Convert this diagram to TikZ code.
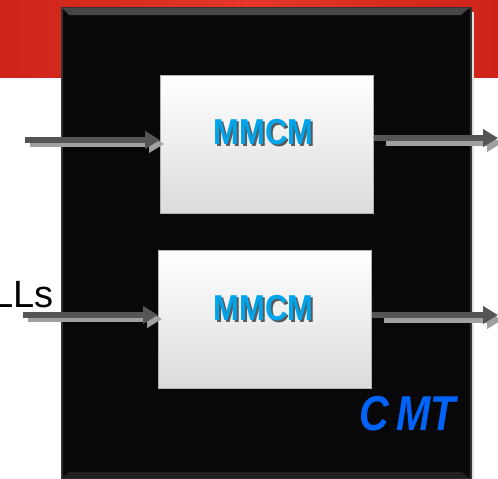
\documentclass[tikz,border=0pt]{standalone}
\usepackage{fontspec}
\setmainfont{Liberation Sans}
\usetikzlibrary{arrows.meta}
\definecolor{redband}{RGB}{205,35,25}
\definecolor{redbandlight}{RGB}{230,55,40}
\definecolor{arrowgray}{RGB}{85,85,85}
\definecolor{shadowgray}{RGB}{160,160,160}
\definecolor{mmcmblue}{RGB}{0,165,235}
\definecolor{cmtblue}{RGB}{0,100,250}
\tikzset{
  x=1pt, y=-1pt,
  mmcmbox/.style={draw=gray!60, line width=1pt, top color=white, bottom color=gray!28, minimum width=213pt, minimum height=138pt, inner sep=0pt},
  mmcmtext/.style={font=\bfseries\fontsize{36}{36}\selectfont, text=mmcmblue, xscale=0.86, inner sep=0pt},
  mmcmshadow/.style={font=\bfseries\fontsize{36}{36}\selectfont, text=gray!70!black, xscale=0.86, inner sep=0pt},
  sig/.style={draw=arrowgray, line width=6pt, -{Triangle[length=15pt,width=17pt]}},
  sigshadow/.style={draw=shadowgray, line width=6pt, -{Triangle[length=15pt,width=17pt]}},
}
\begin{document}
\begin{tikzpicture}
\useasboundingbox (0,0) rectangle (498,479);
% red band
\shade[left color=redband, right color=redband, middle color=redbandlight] (0,0) rectangle (498,77);
% CMT box with faint right shadow
\fill[gray!25] (470,12) rectangle (474,479);
\node[fill=black!97, draw=gray!40!black, line width=1.5pt, minimum width=409pt, minimum height=471pt, inner sep=0pt, anchor=north west] (cmt) at (61,7) {};
\fill[gray!55!black] (62,8) -- (469,8) -- (461,15) -- (69,15) -- cycle;
\fill[gray!25!black] (62,478) -- (469,478) -- (462,472) -- (69,472) -- cycle;
% MMCM boxes
\node[mmcmbox, anchor=north west] (m1) at (160,75) {};
\node[mmcmbox, anchor=north west] (m2) at (158,250) {};
\node[mmcmshadow] at (265.5,134) {MMCM};
\node[mmcmtext] (t1) at (263.5,132) {MMCM};
\node[mmcmshadow] at (265.5,310) {MMCM};
\node[mmcmtext] (t2) at (263.5,308) {MMCM};
% CMT label
\node[font=\bfseries\itshape\fontsize{49}{49}\selectfont, text=cmtblue, xscale=0.84, inner sep=0pt, anchor=base east] (cl) at (456,430) {C\,MT};
% input/output coordinates
\coordinate (in1) at (25,140);
\coordinate (in2) at (23,315);
\coordinate (out1) at (498,138);
\coordinate (out2) at (498,315);
% arrows shadows
\draw[sigshadow] ([shift={(5,4)}]in1) -- ([shift={(4,4)}]m1.west |- in1);
\draw[sigshadow] ([shift={(5,4)}]in2) -- ([shift={(4,4)}]m2.west |- in2);
\draw[sigshadow] ([shift={(12,5)}]m1.east |- out1) -- ([shift={(4,5)}]out1);
\draw[sigshadow] ([shift={(12,5)}]m2.east |- out2) -- ([shift={(4,5)}]out2);
% arrows
\draw[sig] (in1) -- (m1.west |- in1);
\draw[sig] (in2) -- (m2.west |- in2);
\draw[sig] (m1.east |- out1) -- (out1);
\draw[sig] (m2.east |- out2) -- (out2);
% label
\node[font=\fontsize{38}{38}\selectfont, anchor=base east, inner sep=0pt] (pl) at (54,307) {LLs};
\end{tikzpicture}
\end{document}
